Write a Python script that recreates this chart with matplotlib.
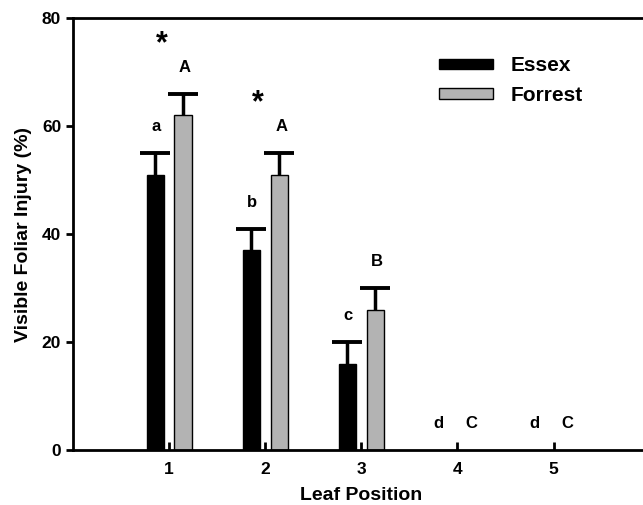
import matplotlib
matplotlib.use('Agg')
import matplotlib.pyplot as plt
import numpy as np
from matplotlib.patches import Rectangle

plt.rcParams['font.family'] = ['Liberation Sans', 'DejaVu Sans']
plt.rcParams['font.weight'] = 'bold'

positions = [1, 2, 3, 4, 5]
essex = [51, 37, 16, 0, 0]
essex_err = [4, 4, 4, 0, 0]
forrest = [62, 51, 26, 0, 0]
forrest_err = [4, 4, 4, 0, 0]

essex_letters = ['a', 'b', 'c', 'd', 'd']
forrest_letters = ['A', 'A', 'B', 'C', 'C']
star_positions = [1, 2]

fig = plt.figure(figsize=(6.43, 5.05), dpi=100)
ax = fig.add_axes([0.1135, 0.109, 0.897, 0.855])

x = np.array(positions, dtype=float)
w = 0.18
off = 0.145

ax.bar(x[:3] - off, essex[:3], width=w, color='black', edgecolor='black', linewidth=1)
ax.bar(x[:3] + off, forrest[:3], width=w, color='#b3b3b3', edgecolor='black', linewidth=1)

# upper-only error bars
for xs, vals, errs in [(x[:3] - off, essex[:3], essex_err[:3]),
                       (x[:3] + off, forrest[:3], forrest_err[:3])]:
    tops = np.array(vals) + np.array(errs)
    ax.vlines(xs, vals, tops, color='black', linewidth=2.5)
    ax.plot(xs, tops, linestyle='none', marker='_', markersize=21, mew=2.8, color='black')

fs = 12
for i in range(5):
    if essex[i] > 0:
        ya = essex[i] + essex_err[i] + 3.5
        yb = forrest[i] + forrest_err[i] + 3.5
        ax.text(x[i] - off + 0.01, ya, essex_letters[i], ha='center', va='bottom', fontsize=fs, fontweight='bold')
        ax.text(x[i] + off + 0.02, yb, forrest_letters[i], ha='center', va='bottom', fontsize=fs, fontweight='bold')
    else:
        ax.text(x[i] - 0.2, 3.5, essex_letters[i], ha='center', va='bottom', fontsize=fs, fontweight='bold')
        ax.text(x[i] + 0.14, 3.5, forrest_letters[i], ha='center', va='bottom', fontsize=fs, fontweight='bold')

for p in star_positions:
    top = forrest[p - 1] + forrest_err[p - 1]
    ax.text(p - 0.08, top + 9.2, '*', ha='center', va='center', fontsize=22, fontweight='bold')

ax.set_xlim(0, 6)
ax.set_ylim(0, 80)
ax.set_xticks(positions)
ax.set_yticks([0, 20, 40, 60, 80])
ax.tick_params(axis='x', direction='in', length=6, width=2, labelsize=12.5, pad=9)
ax.tick_params(axis='y', direction='out', length=5, width=2, labelsize=12.5, right=True)
for lbl in ax.get_xticklabels() + ax.get_yticklabels():
    lbl.set_fontweight('bold')
for s in ax.spines.values():
    s.set_linewidth(2)

ax.set_xlabel('Leaf Position', fontsize=14, fontweight='bold', labelpad=7)
ax.set_ylabel('Visible Foliar Injury (%)', fontsize=14, fontweight='bold', labelpad=7)

handles = [Rectangle((0, 0), 1, 1, facecolor='black', edgecolor='black'),
           Rectangle((0, 0), 1, 1, facecolor='#b3b3b3', edgecolor='black')]
leg = ax.legend(handles, ['Essex', 'Forrest'], loc='upper left', bbox_to_anchor=(0.602, 0.955),
                frameon=False, fontsize=15, handlelength=2.6, handleheight=0.4,
                handletextpad=0.85, labelspacing=0.5)
for t in leg.get_texts():
    t.set_fontweight('bold')

plt.savefig('out.png', dpi=100)
